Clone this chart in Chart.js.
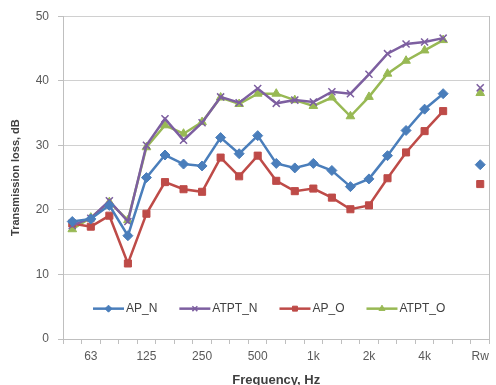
<!DOCTYPE html>
<html>
<head>
<meta charset="utf-8">
<script src="https://cdn.jsdelivr.net/npm/chart.js@4.4.1/dist/chart.umd.min.js"></script>
<style>
  html, body { margin: 0; padding: 0; background: #fff; }
  #wrap { width: 496px; height: 385px; position: relative; }
</style>
</head>
<body>
<div id="wrap"><canvas id="c"></canvas></div>
<script>
// 1/3 octave bands, a blank slot, then the single-number rating
const bands = ['50','63','80','100','125','160','200','250','315','400','500','630','800',
               '1k','1.25k','1.6k','2k','2.5k','3.15k','4k','5k','','Rw'];
const shownTicks = ['63','125','250','500','1k','2k','4k','Rw'];

const apN   = [18.2, 18.6, 20.7, 16.0, 25.0, 28.5, 27.1, 26.8, 31.2, 28.7, 31.5, 27.2, 26.5,
               27.2, 26.1, 23.6, 24.8, 28.4, 32.3, 35.6, 38.0, null, 27.0];
const atptN = [17.6, 18.7, 21.4, 18.2, 30.0, 34.1, 30.8, 33.5, 37.5, 36.6, 38.8, 36.5, 37.0,
               36.7, 38.3, 38.0, 41.0, 44.2, 45.7, 46.0, 46.6, null, 38.9];
const apO   = [17.9, 17.4, 19.1, 11.7, 19.4, 24.3, 23.2, 22.8, 28.1, 25.2, 28.4, 24.5, 22.9,
               23.3, 21.9, 20.1, 20.7, 24.9, 28.9, 32.2, 35.3, null, 24.0];
const atptO = [17.0, 18.8, 21.2, 18.4, 29.7, 33.1, 31.8, 33.6, 37.4, 36.4, 38.0, 38.0, 37.0,
               36.1, 37.4, 34.5, 37.5, 41.1, 43.1, 44.7, 46.3, null, 38.1];

const FONT = "'Liberation Sans', Arial, sans-serif";

function series(label, data, color, style, radius) {
  return {
    label, data,
    borderColor: color,
    backgroundColor: color,
    borderWidth: 2.5,
    pointStyle: style,
    pointRadius: radius,
    pointBorderWidth: style === 'crossRot' ? 1.5 : 1,
    pointBorderColor: color,
    pointBackgroundColor: color,
    spanGaps: false,
    tension: 0,
  };
}

// legend drawn inside the plot, Excel style (line + marker + text)
const innerLegend = {
  id: 'innerLegend',
  afterDraw(chart) {
    const ctx = chart.ctx;
    const y = chart.scales.y.getPixelForValue(4.7);
    let x = 93;
    ctx.save();
    ctx.font = '12px ' + FONT;
    ctx.textBaseline = 'middle';
    chart.data.datasets.forEach(ds => {
      ctx.strokeStyle = ds.borderColor;
      ctx.lineWidth = 2.5;
      ctx.beginPath();
      ctx.moveTo(x, y);
      ctx.lineTo(x + 31, y);
      ctx.stroke();
      ctx.fillStyle = ds.backgroundColor;
      ctx.lineWidth = ds.pointBorderWidth;
      Chart.helpers.drawPoint(ctx, {
        pointStyle: ds.pointStyle, radius: 3.5, rotation: 0, borderWidth: ds.pointBorderWidth
      }, x + 15.5, y);
      ctx.fillStyle = '#404040';
      ctx.fillText(ds.label, x + 33, y + 0.5);
      x += 33 + ctx.measureText(ds.label).width + 22;
    });
    ctx.restore();
  }
};

new Chart(document.getElementById('c'), {
  type: 'line',
  data: {
    labels: bands,
    datasets: [
      series('AP_N',   apN,   '#4a7ebb', 'rectRot', 5),
      series('ATPT_N', atptN, '#7d5fa0', 'crossRot', 5),
      series('AP_O',   apO,   '#be4b48', 'rect', 5),
      series('ATPT_O', atptO, '#98b954', 'triangle', 5),
    ],
  },
  options: {
    responsive: true,
    maintainAspectRatio: false,
    animation: false,
    layout: { padding: { top: 15, left: 0, right: 0, bottom: 0 } },
    plugins: {
      legend: { display: false },
      tooltip: { enabled: false },
    },
    scales: {
      x: {
        offset: true,
        grid: { offset: true, drawOnChartArea: false, tickLength: 5, color: '#bfbfbf' },
        border: { color: '#bfbfbf' },
        ticks: {
          autoSkip: false, maxRotation: 0, padding: 5,
          color: '#595959', font: { family: FONT, size: 12 },
          callback(v) { const l = this.getLabelForValue(v); return shownTicks.includes(l) ? l : ''; },
        },
        title: {
          display: true, text: 'Frequency, Hz', color: '#404040',
          font: { family: FONT, size: 13, weight: 'bold' }, padding: { top: 0, bottom: -3 },
        },
        afterFit(s) { s.height = 46; },
      },
      y: {
        min: 0, max: 50,
        ticks: { stepSize: 10, padding: 9, color: '#595959', font: { family: FONT, size: 12 } },
        grid: { color: '#d0d0d0', tickLength: 5, tickColor: '#bfbfbf' },
        border: { color: '#bfbfbf' },
        title: {
          display: true, text: 'Transmission loss, dB', color: '#404040',
          font: { family: FONT, size: 11, weight: 'bold' }, padding: { top: 9, bottom: 0 },
        },
        afterFit(s) { s.width = 63; },
      },
      y1: {
        position: 'right', min: 0, max: 50,
        ticks: { display: false },
        grid: { drawOnChartArea: false, drawTicks: false },
        border: { color: '#bfbfbf' },
        afterFit(s) { s.width = 2; },
      },
    },
  },
  plugins: [innerLegend],
});
</script>
</body>
</html>
